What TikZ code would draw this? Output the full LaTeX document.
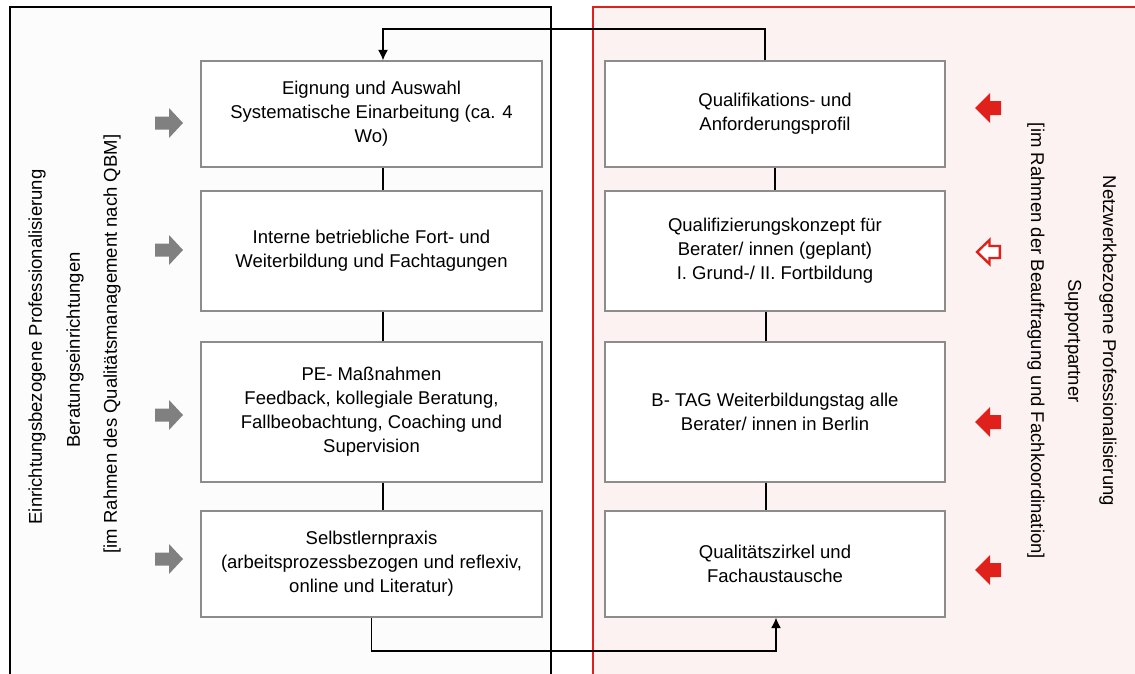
\documentclass[tikz,border=0pt]{standalone}
\usepackage{fontspec}
\setmainfont{Liberation Sans}
\usetikzlibrary{arrows.meta}
\definecolor{boxgray}{HTML}{8C8C8C}
\definecolor{arrgray}{HTML}{808080}
\definecolor{myred}{HTML}{E0201A}
\definecolor{pinkbg}{HTML}{FCF2F1}
\definecolor{graybg}{HTML}{FCFCFC}
\begin{document}
\begin{tikzpicture}[x=1pt,y=-1pt,
  box/.style={draw=boxgray,line width=1.3pt,fill=white,inner sep=0pt,align=center,
    font=\fontsize{18.5}{24}\selectfont},
  lbox/.style={box,minimum width=341pt},
  rbox/.style={box,minimum width=340pt},
  conn/.style={draw=black,line width=1.3pt},
  arr/.style={conn,-{Latex[length=10.5pt,width=10pt]}},
  vtext/.style={font=\fontsize{18.5}{24}\selectfont,inner sep=0pt},
  grayarrow/.style={fill=arrgray},
  redarrow/.style={fill=myred}]
\useasboundingbox (0,0) rectangle (1135,673);
\clip (0,0) rectangle (1135,673);
% panels
\draw[fill=graybg,line width=1.2pt] (10,7) rectangle (551,690);
\draw[draw=myred,fill=pinkbg,line width=1.2pt] (593,7) rectangle (1150,690);
% left boxes
\node[lbox,minimum height=106pt] (L1) at (371.5,114) {Eignung und Auswahl\\Systematische Einarbeitung (ca. 4\\Wo)};
\node[lbox,minimum height=120pt] (L2) at (371.5,251) {Interne betriebliche Fort- und\\Weiterbildung und Fachtagungen};
\node[lbox,minimum height=140pt] (L3) at (371.5,412) {PE- Maßnahmen\\Feedback, kollegiale Beratung,\\Fallbeobachtung, Coaching und\\Supervision};
\node[lbox,minimum height=106pt] (L4) at (371.5,564) {Selbstlernpraxis\\(arbeitsprozessbezogen und reflexiv,\\online und Literatur)};
% right boxes
\node[rbox,minimum height=106pt] (R1) at (775,114) {Qualifikations- und\\Anforderungsprofil};
\node[rbox,minimum height=120pt] (R2) at (775,251) {Qualifizierungskonzept für\\Berater/ innen (geplant)\\I. Grund-/ II. Fortbildung};
\node[rbox,minimum height=140pt] (R3) at (775,412) {B- TAG Weiterbildungstag alle\\Berater/ innen in Berlin};
\node[rbox,minimum height=106pt] (R4) at (775,564) {Qualitätszirkel und\\Fachaustausche};
% vertical connectors
\draw[conn] ([xshift=11.5pt]L1.south) -- ([xshift=11.5pt]L2.north);
\draw[conn] ([xshift=11.5pt]L2.south) -- ([xshift=11.5pt]L3.north);
\draw[conn] ([xshift=11.5pt]L3.south) -- ([xshift=11.5pt]L4.north);
\draw[conn] (R1.south) -- (R2.north);
\draw[conn] ([xshift=-9pt]R2.south) -- ([xshift=-9pt]R3.north);
\draw[conn] ([xshift=-9pt]R3.south) -- ([xshift=-9pt]R4.north);
% loop connectors
\coordinate (topy) at (0,29);
\coordinate (boty) at (0,651);
\coordinate (l1t) at ([xshift=11.5pt]L1.north);
\coordinate (r1t) at ([xshift=-10pt]R1.north);
\coordinate (l4b) at (L4.south);
\coordinate (r4b) at ([xshift=1pt]R4.south);
\draw[arr] (r1t) |- (l1t |- topy) -- (l1t);
\draw[arr] (l4b) |- (r4b |- boty) -- (r4b);
% vertical texts left
\node[vtext,rotate=90] (LT1) at (37,347) {Einrichtungsbezogene Professionalisierung};
\node[vtext,rotate=90] (LT2) at (75,350) {Beratungseinrichtungen};
\node[vtext,rotate=90] (LT3) at (112,344) {[im Rahmen des Qualitätsmanagement nach QBM]};
% vertical texts right
\node[vtext,rotate=-90] (RT1) at (1108,341) {Netzwerkbezogene Professionalisierung};
\node[vtext,rotate=-90] (RT2) at (1073,341) {Supportpartner};
\node[vtext,rotate=-90] (RT3) at (1036,341) {[im Rahmen der Beauftragung und Fachkoordination]};
% gray block arrows
\foreach \yy in {123,250,415,559}
  \path[grayarrow] (155,\yy-6.5) -- (169,\yy-6.5) -- (169,\yy-15) -- (183,\yy)
    -- (169,\yy+15) -- (169,\yy+6.5) -- (155,\yy+6.5) -- cycle;
% red block arrows
\foreach \yy in {108,422,570}
  \path[redarrow] (1001,\yy-7) -- (990,\yy-7) -- (990,\yy-15) -- (975,\yy)
    -- (990,\yy+15) -- (990,\yy+7) -- (1001,\yy+7) -- cycle;
\draw[myred,line width=2.4pt,fill=white,line join=miter] (999.8,246) -- (989.5,246) -- (989.5,240) -- (977,252)
    -- (989.5,264) -- (989.5,258) -- (999.8,258) -- cycle;
\end{tikzpicture}
\end{document}
